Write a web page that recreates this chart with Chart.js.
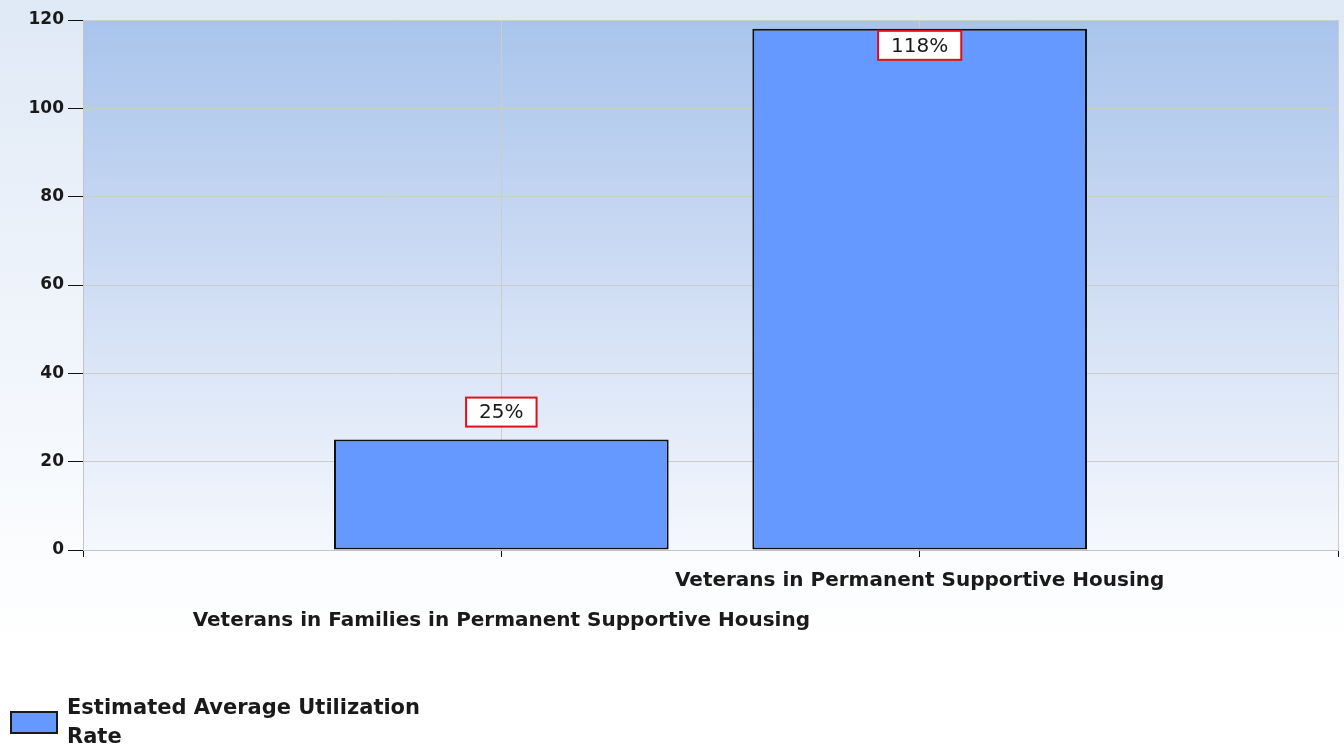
<!DOCTYPE html>
<html lang="en">
  <head>
    <meta charset="UTF-8" />
    <title>Estimated Average Utilization Rate</title>
    <script src="https://cdn.jsdelivr.net/npm/chart.js"></script>
    <style>
      body {
        margin: 0;
        width: 1344px;
        height: 746px;
        overflow: hidden;
        background: linear-gradient(to bottom, #dfe9f6 0px, #f3f7fc 400px, #ffffff 650px);
        font-family: "DejaVu Sans", Verdana, sans-serif;
      }

      .wrap {
        position: relative;
        width: 1344px;
        height: 746px;
      }

      .legend {
        position: absolute;
        left: 10px;
        top: 693px;
        display: flex;
        align-items: flex-start;
      }

      .legend .box {
        width: 44px;
        height: 19px;
        margin-top: 18px;
        background: #6699ff;
        border: 2px solid #1a1a1a;
      }

      .legend .text {
        margin-left: 9px;
        width: 380px;
        font-weight: bold;
        font-size: 21px;
        line-height: 29px;
        color: #1a1a1a;
      }
    </style>
  </head>

  <body>
    <div class="wrap">
      <canvas id="myChart"></canvas>
      <div class="legend">
        <div class="box"></div>
        <div class="text">Estimated Average Utilization Rate</div>
      </div>
    </div>

    <script>
      // data
      const categories = [
        "",
        ["", "Veterans in Families in Permanent Supportive Housing"],
        "Veterans in Permanent Supportive Housing",
        "",
      ];
      const utilization = [null, 25, 118, null];
      const yTicks = [0, 20, 40, 60, 80, 100, 120];
      const seriesName = "Estimated Average Utilization Rate";

      const fontFamily = "'DejaVu Sans', Verdana, sans-serif";

      // gradient behind the plot area
      const plotBackground = {
        id: "plotBackground",
        beforeDraw(chart) {
          const { ctx, chartArea: a } = chart;
          const g = ctx.createLinearGradient(0, a.top, 0, a.bottom);
          g.addColorStop(0, "#a9c4eb");
          g.addColorStop(0.5, "#cfddf4");
          g.addColorStop(1, "#f5f8fd");
          ctx.save();
          ctx.fillStyle = g;
          ctx.fillRect(a.left, a.top, a.right - a.left, a.bottom - a.top);
          ctx.restore();
        },
      };

      // boxed value labels (above the bar, or inside when there is no room)
      const valueLabels = {
        id: "valueLabels",
        afterDatasetsDraw(chart) {
          const { ctx, chartArea } = chart;
          const meta = chart.getDatasetMeta(0);
          ctx.save();
          ctx.font = "20px " + fontFamily;
          ctx.textAlign = "center";
          ctx.textBaseline = "middle";
          meta.data.forEach((bar, i) => {
            const v = utilization[i];
            if (v === null || v === undefined) return;
            const text = v + "%";
            const w = ctx.measureText(text).width + 26;
            const h = 29;
            let top = bar.y - 13 - h;
            if (top < chartArea.top) top = bar.y + 2;
            const left = bar.x - w / 2;
            ctx.fillStyle = "#ffffff";
            ctx.fillRect(left, top, w, h);
            ctx.strokeStyle = "#e0101a";
            ctx.lineWidth = 2;
            ctx.strokeRect(left, top, w, h);
            ctx.fillStyle = "#1a1a1a";
            ctx.fillText(text, bar.x, top + h / 2 + 1);
          });
          ctx.restore();
        },
      };

      const ctx = document.getElementById("myChart").getContext("2d");
      const myChart = new Chart(ctx, {
        type: "bar",
        data: {
          labels: categories,
          datasets: [
            {
              label: seriesName,
              data: utilization,
              backgroundColor: "#6699ff",
              borderColor: "#111111",
              borderWidth: 2,
              borderSkipped: false,
              barPercentage: 1,
              categoryPercentage: 0.8,
            },
          ],
        },
        options: {
          responsive: true,
          maintainAspectRatio: false,
          animation: false,
          layout: {
            padding: { top: 20, right: 6, left: 0, bottom: 0 },
          },
          plugins: {
            legend: { display: false },
            tooltip: { enabled: false },
          },
          scales: {
            x: {
              offset: false,
              afterFit(scale) {
                scale.height = 196;
              },
              grid: {
                color: "#cccccc",
                tickColor: "#111111",
                tickLength: 7,
                offset: false,
              },
              border: { color: "#c4c4c4" },
              ticks: {
                maxRotation: 0,
                autoSkip: false,
                padding: 4,
                color: "#1a1a1a",
                font: { family: fontFamily, size: 20, weight: "bold", lineHeight: 2 },
              },
            },
            y: {
              min: 0,
              max: 120,
              afterBuildTicks(scale) {
                scale.ticks = yTicks.map((v) => ({ value: v }));
              },
              afterFit(scale) {
                scale.width = 83;
              },
              grid: {
                color: "#cccccc",
                tickColor: "#111111",
                tickLength: 15,
              },
              border: { color: "#c4c4c4" },
              ticks: {
                padding: 4,
                color: "#1a1a1a",
                font: { family: fontFamily, size: 17, weight: "bold" },
              },
            },
          },
        },
        plugins: [plotBackground, valueLabels],
      });
    </script>
  </body>
</html>
